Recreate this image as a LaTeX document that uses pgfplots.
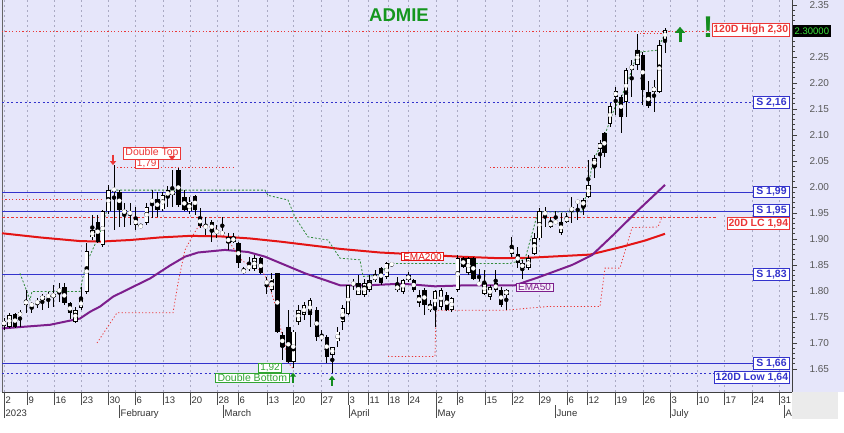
\documentclass[border=0pt]{standalone}
\usepackage{pgfplots}
\pgfplotsset{compat=1.18}
\usepackage{pgfplotstable}
\usepackage{fontspec}
\setmainfont{Liberation Sans}
\usetikzlibrary{arrows.meta}

\definecolor{lav}{RGB}{230,230,250}
\definecolor{supblue}{RGB}{51,51,204}
\definecolor{emared}{RGB}{228,20,20}
\definecolor{emapurp}{RGB}{125,30,140}
\definecolor{lvlred}{RGB}{235,55,55}
\definecolor{stopgreen}{RGB}{50,140,60}
\definecolor{titlegreen}{RGB}{20,150,30}
\definecolor{gridc}{RGB}{170,170,195}
\definecolor{lblgreen}{RGB}{50,165,50}
\definecolor{arrgreen}{RGB}{20,140,30}

\pgfplotstableread{
x O H L C
4.0 1.733 1.748 1.725 1.743
9.3 1.731 1.757 1.728 1.754
15.0 1.755 1.758 1.728 1.731
20.0 1.751 1.763 1.731 1.760
26.0 1.783 1.802 1.757 1.773
31.7 1.776 1.779 1.757 1.771
37.3 1.776 1.786 1.767 1.781
42.3 1.783 1.795 1.763 1.791
48.3 1.788 1.799 1.767 1.793
53.3 1.789 1.811 1.770 1.794
59.3 1.802 1.815 1.779 1.800
64.3 1.807 1.815 1.773 1.776
70.0 1.776 1.779 1.747 1.757
75.3 1.741 1.770 1.738 1.763
81.0 1.767 1.808 1.763 1.784
86.7 1.799 1.892 1.795 1.876
92.3 1.903 1.946 1.898 1.917
97.7 1.933 1.946 1.892 1.895
102.7 1.888 1.956 1.885 1.953
108.3 1.953 2.004 1.949 1.994
114.0 1.999 2.042 1.917 1.991
119.3 1.991 1.994 1.924 1.956
124.3 1.956 1.969 1.924 1.949
130.0 1.954 1.969 1.927 1.946
135.7 1.938 1.962 1.917 1.927
140.7 1.925 1.929 1.922 1.924
146.7 1.931 1.969 1.927 1.962
152.0 1.971 1.994 1.940 1.976
157.3 1.976 1.991 1.943 1.956
162.7 1.957 1.991 1.953 1.985
167.7 1.981 2.001 1.962 1.994
172.3 1.985 2.033 1.962 1.993
178.3 2.033 2.036 1.962 1.965
184.3 1.981 1.994 1.953 1.956
189.3 1.953 1.981 1.949 1.972
195.0 1.983 1.985 1.946 1.956
200.0 1.943 1.959 1.921 1.925
205.7 1.925 1.943 1.908 1.922
211.7 1.933 1.937 1.895 1.914
216.7 1.911 1.927 1.901 1.917
222.3 1.912 1.943 1.908 1.911
228.3 1.893 1.911 1.879 1.903
233.3 1.903 1.911 1.892 1.895
238.3 1.892 1.895 1.844 1.853
243.7 1.834 1.847 1.833 1.842
249.0 1.842 1.866 1.839 1.850
254.3 1.842 1.869 1.839 1.863
260.7 1.863 1.866 1.833 1.834
266.7 1.818 1.827 1.795 1.815
271.7 1.802 1.834 1.799 1.824
277.3 1.834 1.835 1.719 1.722
282.3 1.715 1.722 1.667 1.693
288.3 1.731 1.763 1.661 1.664
293.3 1.664 1.725 1.651 1.722
298.3 1.741 1.773 1.735 1.763
304.0 1.754 1.779 1.744 1.773
310.0 1.754 1.786 1.731 1.783
316.7 1.763 1.770 1.703 1.712
321.7 1.712 1.725 1.703 1.710
326.7 1.712 1.715 1.661 1.674
332.3 1.677 1.693 1.642 1.692
337.7 1.703 1.731 1.693 1.722
342.7 1.741 1.773 1.725 1.767
348.0 1.756 1.811 1.754 1.811
353.3 1.815 1.824 1.802 1.813
358.3 1.792 1.830 1.792 1.815
364.3 1.792 1.824 1.789 1.815
369.3 1.802 1.831 1.799 1.821
375.0 1.821 1.840 1.818 1.831
381.0 1.844 1.847 1.811 1.815
386.7 1.827 1.856 1.824 1.853
391.7 1.853 1.855 1.847 1.850
397.3 1.811 1.827 1.799 1.802
403.0 1.799 1.824 1.795 1.821
408.3 1.821 1.837 1.818 1.831
413.7 1.821 1.824 1.799 1.802
419.0 1.792 1.802 1.770 1.776
424.3 1.802 1.805 1.754 1.773
430.0 1.773 1.783 1.760 1.763
435.0 1.763 1.802 1.731 1.800
441.0 1.770 1.805 1.763 1.802
446.7 1.792 1.799 1.762 1.763
451.7 1.763 1.789 1.760 1.786
457.7 1.802 1.869 1.799 1.863
463.3 1.863 1.866 1.844 1.847
468.3 1.834 1.866 1.831 1.863
473.3 1.863 1.866 1.821 1.824
479.0 1.815 1.843 1.811 1.813
484.3 1.795 1.840 1.792 1.815
490.0 1.789 1.811 1.783 1.808
495.7 1.815 1.840 1.799 1.802
501.0 1.802 1.808 1.770 1.773
506.3 1.792 1.803 1.763 1.802
511.7 1.882 1.904 1.866 1.872
517.7 1.872 1.885 1.844 1.853
522.3 1.853 1.860 1.824 1.844
528.3 1.844 1.869 1.840 1.863
534.3 1.872 1.911 1.869 1.901
539.3 1.901 1.959 1.898 1.953
545.0 1.953 1.962 1.924 1.946
550.7 1.933 1.943 1.921 1.924
555.7 1.933 1.953 1.930 1.932
561.0 1.911 1.950 1.908 1.933
566.7 1.933 1.950 1.930 1.943
571.7 1.953 1.981 1.930 1.962
577.7 1.972 1.975 1.937 1.971
583.3 1.962 1.978 1.946 1.975
588.3 1.981 2.052 1.978 2.004
594.3 2.039 2.062 2.017 2.055
600.0 2.074 2.090 2.036 2.084
604.3 2.103 2.106 2.058 2.065
610.0 2.122 2.161 2.116 2.155
615.7 2.184 2.193 2.138 2.174
621.0 2.174 2.177 2.103 2.135
626.0 2.164 2.228 2.135 2.225
631.7 2.225 2.244 2.174 2.235
637.3 2.235 2.295 2.225 2.263
642.7 2.254 2.260 2.158 2.187
648.3 2.183 2.203 2.151 2.155
654.0 2.193 2.206 2.145 2.183
659.3 2.183 2.283 2.180 2.273
665.0 2.283 2.305 2.257 2.302
}\candles

\begin{document}
\begin{tikzpicture}[x=1pt,y=1pt]
\path[use as bounding box] (0,0) rectangle (844,432);
\fill[lav] (0,40) rectangle (844,432);
\fill[white] (0,0) rectangle (844,40);
\fill[black!8] (792,13) rectangle (838,40);
\draw[black!60, line width=0.8pt] (2,40) -- (2,432);
\begin{axis}[
  at={(2pt,40pt)}, anchor=south west,
  width=790pt, height=392pt, scale only axis,
  xmin=2, xmax=792, ymin=1.60575, ymax=2.3596,
  clip=false,
  axis x line*=bottom, axis y line*=right,
  axis line style={-, draw=black!75, line width=0.8pt},
  xtick={4,27,54,81,108,135,163,190,217,238,267,293,321,348,368,388,408,436,457,485,512,539,567,587,615,643,670,697,724,752,779},
  xticklabel=\empty,
  xmajorgrids,
  major x grid style={gridc, dash pattern=on 2pt off 3pt, line width=0.6pt},
  xtick style={draw=none},
  ytick={1.65,1.70,1.75,1.80,1.85,1.90,1.95,2.00,2.05,2.10,2.15,2.20,2.25,2.30,2.35},
  yticklabels={1.65,1.70,1.75,1.80,1.85,1.90,1.95,2.00,2.05,2.10,2.15,2.20,2.25,,2.35},
  minor y tick num=4,
  tick align=outside, major tick length=5pt, minor tick length=3pt,
  ytick style={black!75, line width=0.7pt},
  yticklabel style={text=black!65, font=\fontsize{10}{12}\selectfont, xshift=9pt},
]
% horizontal level lines
\addplot[lvlred, line width=0.8pt, dash pattern=on 1.2pt off 2.2pt] coordinates {(2,2.300) (716,2.300)};
\addplot[lvlred, line width=0.8pt, dash pattern=on 1.2pt off 2.2pt] coordinates {(640,2.296) (662,2.296)};
\addplot[supblue, line width=1pt, dash pattern=on 2pt off 2.5pt] coordinates {(2,2.163) (753,2.163)};
\addplot[lvlred, line width=0.8pt, dash pattern=on 1.2pt off 2.2pt] coordinates {(117,2.038) (235,2.038)};
\addplot[lvlred, line width=0.8pt, dash pattern=on 1.2pt off 2.2pt] coordinates {(490,2.038) (588,2.038)};
\addplot[lvlred, line width=0.8pt, dash pattern=on 1.2pt off 2.2pt] coordinates {(2,1.977) (103,1.977)};
\addplot[supblue, line width=1.1pt] coordinates {(2,1.990) (755,1.990)};
\addplot[supblue, line width=1.1pt] coordinates {(2,1.952) (755,1.952)};
\addplot[lvlred, line width=0.9pt, dash pattern=on 2.5pt off 2pt] coordinates {(2,1.942) (716,1.942)};
\addplot[supblue, line width=1.1pt] coordinates {(2,1.832) (756,1.832)};
\addplot[supblue, line width=1.1pt] coordinates {(2,1.661) (757,1.661)};
\addplot[supblue, line width=1pt, dash pattern=on 2pt off 2.5pt] coordinates {(2,1.641) (716,1.641)};
% EMA lines
\addplot[emared, line width=2pt] coordinates {(2,1.911) (40,1.903) (80,1.896) (100,1.895) (130,1.898) (160,1.903) (190,1.906) (220,1.905) (250,1.901) (280,1.895) (310,1.888) (340,1.881) (380,1.874) (420,1.870) (460,1.866) (500,1.863) (530,1.864) (560,1.867) (590,1.870) (622,1.885) (645,1.897) (665,1.910)};
\addplot[emapurp, line width=2pt] coordinates {(2,1.728) (50,1.735) (80,1.747) (90,1.760) (100,1.770) (113,1.789) (133,1.808) (150,1.824) (170,1.849) (185,1.866) (198,1.874) (225,1.879) (248,1.875) (265,1.866) (285,1.850) (305,1.834) (325,1.821) (340,1.811) (368,1.811) (402,1.814) (435,1.809) (468,1.811) (515,1.811) (538,1.826) (572,1.850) (592,1.869) (615,1.911) (638,1.955) (665,2.004)};
% stop / channel lines
\addplot[stopgreen, line width=0.8pt, dash pattern=on 2pt off 1.8pt] coordinates {(20,1.834) (30,1.783) (32,1.799) (80,1.799) (83,1.827) (88,1.860) (100,1.911) (107,1.956) (110,1.994) (265,1.994) (268,1.984) (288,1.975) (295,1.942) (308,1.904) (328,1.898) (340,1.863) (360,1.860) (363,1.828) (378,1.830) (390,1.853) (510,1.853) (525,1.861) (538,1.952) (582,1.952) (588,2.000) (593,2.050) (602,2.085) (615,2.154) (620,2.166) (632,2.225) (637,2.259) (657,2.263) (662,2.283) (667,2.302)};
\addplot[lvlred, line width=0.8pt, dash pattern=on 1.2pt off 2.2pt] coordinates {(97,1.700) (117,1.758) (173,1.758) (178,1.815) (185,1.879) (192,1.904) (198,1.923) (205,1.925) (215,1.923) (228,1.898) (242,1.858) (262,1.838) (267,1.823) (275,1.775) (280,1.732) (285,1.698) (288,1.663) (293,1.651)};
\addplot[lvlred, line width=0.8pt, dash pattern=on 1.2pt off 2.2pt] coordinates {(388,1.674) (435,1.674) (436,1.763) (505,1.763) (547,1.770) (600,1.770) (605,1.844) (620,1.844) (632,1.922) (658,1.923) (662,1.942) (665,1.942)};
% candles: wicks
\addplot[black, only marks, mark=none,
  error bars/.cd, y dir=both, y explicit, error mark=none,
  error bar style={line width=0.9pt, draw=black}]
  table[x=x, y expr={(\thisrow{H}+\thisrow{L})/2}, y error expr={(\thisrow{H}-\thisrow{L})/2}] {\candles};
% candles: bodies (black)
\addplot[black, only marks, mark=none,
  error bars/.cd, y dir=both, y explicit, error mark=none,
  error bar style={line width=4.4pt, draw=black}]
  table[x=x, y expr={(\thisrow{O}+\thisrow{C})/2}, y error expr={max(abs(\thisrow{C}-\thisrow{O})/2,0.001)}] {\candles};
% candles: hollow inside of rising days
\addplot[white, only marks, mark=none,
  error bars/.cd, y dir=both, y explicit, error mark=none,
  error bar style={line width=2.8pt, draw=white}]
  table[x=x, y expr={(\thisrow{O}+\thisrow{C})/2}, y error expr={ifthenelse(\thisrow{C}>\thisrow{O}, max((\thisrow{C}-\thisrow{O})/2-0.0016,0), 0)}] {\candles};

% title and annotations
\node[text=titlegreen, font=\bfseries\fontsize{18.5}{20}\selectfont] at (axis cs:399,2.331) {ADMIE};
\draw[arrgreen, line width=3pt, -{Triangle[length=6pt,width=10pt]}] (axis cs:680,2.278) -- (axis cs:680,2.308);
\node[text=arrgreen, font=\bfseries\fontsize{30}{30}\selectfont] at (axis cs:708,2.307) {!};
\node[anchor=east, draw=lvlred, fill=white, text=lvlred, line width=0.8pt, inner xsep=1.5pt, inner ysep=1.2pt, font=\bfseries\fontsize{10.5}{12}\selectfont] at (axis cs:790,2.302) {120D High 2,30};
\node[anchor=west, fill=black, text={rgb,255:red,60;green,230;blue,60}, inner xsep=1.5pt, inner ysep=2.2pt, font=\fontsize{9.5}{10}\selectfont] at (axis cs:793,2.300) {2.30000};
\node[anchor=east, draw=supblue, fill=white, text=supblue, line width=0.8pt, inner xsep=3pt, inner ysep=1.2pt, font=\bfseries\fontsize{10.5}{12}\selectfont] at (axis cs:790,2.163) {S 2,16};
\node[anchor=east, draw=supblue, fill=white, text=supblue, line width=0.8pt, inner xsep=3pt, inner ysep=1.2pt, font=\bfseries\fontsize{10.5}{12}\selectfont] at (axis cs:790,1.991) {S 1,99};
\node[anchor=east, draw=supblue, fill=white, text=supblue, line width=0.8pt, inner xsep=3pt, inner ysep=1.2pt, font=\bfseries\fontsize{10.5}{12}\selectfont] at (axis cs:790,1.955) {S 1,95};
\node[anchor=east, draw=lvlred, fill=white, text=lvlred, line width=0.8pt, inner xsep=1.5pt, inner ysep=1.2pt, font=\bfseries\fontsize{10.5}{12}\selectfont] at (axis cs:790,1.930) {20D LC 1,94};
\node[anchor=east, draw=supblue, fill=white, text=supblue, line width=0.8pt, inner xsep=3pt, inner ysep=1.2pt, font=\bfseries\fontsize{10.5}{12}\selectfont] at (axis cs:790,1.832) {S 1,83};
\node[anchor=east, draw=supblue, fill=white, text=supblue, line width=0.8pt, inner xsep=3pt, inner ysep=1.2pt, font=\bfseries\fontsize{10.5}{12}\selectfont] at (axis cs:790,1.661) {S 1,66};
\node[anchor=east, draw=supblue, fill=white, text=supblue, line width=0.8pt, inner xsep=1.5pt, inner ysep=1.2pt, font=\bfseries\fontsize{10.5}{12}\selectfont] at (axis cs:790,1.634) {120D Low 1,64};
% pattern labels
\node[draw=lvlred, fill=white, text=lvlred, line width=0.7pt, inner xsep=2pt, inner ysep=0.8pt, font=\fontsize{10.5}{12}\selectfont] at (axis cs:152,2.065) {Double Top};
\node[draw=lvlred, fill=white, text=lvlred, line width=0.7pt, inner xsep=2pt, inner ysep=0.6pt, font=\fontsize{10}{11}\selectfont] at (axis cs:146.7,2.044) {1,79};
\draw[lvlred, line width=1.4pt, -{Triangle[length=4pt,width=6pt]}] (axis cs:113,2.062) -- (axis cs:113,2.042);
\fill[lvlred] (axis cs:168.5,2.060) -- (axis cs:175.5,2.060) -- (axis cs:172,2.051) -- cycle;
\node[draw=lblgreen, fill=white, text=lblgreen, line width=0.7pt, inner xsep=2pt, inner ysep=0.4pt, font=\fontsize{10.5}{11}\selectfont] at (axis cs:252.3,1.633) {Double Bottom};
\node[draw=lblgreen, fill=white, text=lblgreen, line width=0.7pt, inner xsep=2pt, inner ysep=0.6pt, font=\fontsize{10}{11}\selectfont] at (axis cs:270,1.652) {1,92};
\draw[arrgreen, line width=1.6pt, -{Triangle[length=4pt,width=6pt]}] (axis cs:293,1.624) -- (axis cs:293,1.643);
\draw[arrgreen, line width=1.6pt, -{Triangle[length=4pt,width=6pt]}] (axis cs:332,1.618) -- (axis cs:332,1.637);
\node[draw=emared, fill=white, text=emared, line width=0.7pt, inner xsep=2pt, inner ysep=0.6pt, font=\fontsize{10}{11}\selectfont] at (axis cs:422.5,1.866) {EMA200};
\node[draw=emapurp, fill={rgb,255:red,245;green,240;blue,250}, text=emapurp, line width=0.7pt, inner xsep=2pt, inner ysep=0.6pt, font=\fontsize{10}{11}\selectfont] at (axis cs:534.5,1.807) {EMA50};
\end{axis}
% date rows
\foreach \x/\t in {4/2,27/9,54/16,81/23,108/30,135/6,163/13,190/20,217/28,238/6,267/13,293/20,321/27,348/3,368/11,388/18,408/24,436/2,457/8,485/15,512/22,539/29,567/6,587/12,615/19,643/26,670/3,697/10,724/17,752/24,779/31}{
  \draw[black!70, line width=0.7pt] (\x,40) -- (\x,27);
  \node[anchor=base west, inner sep=0pt, text=black!80, font=\fontsize{9.5}{11}\selectfont] at (\x+1.5,29) {\t};
}
\foreach \x/\t in {4/2023,119/February,223/March,349/April,436/May,555/June,670/July,784/A}{
  \draw[black!70, line width=0.7pt] (\x,27) -- (\x,14);
  \node[anchor=base west, inner sep=0pt, text=black!80, font=\fontsize{9.5}{11}\selectfont] at (\x+1.5,16) {\t};
}
\end{tikzpicture}
\end{document}
